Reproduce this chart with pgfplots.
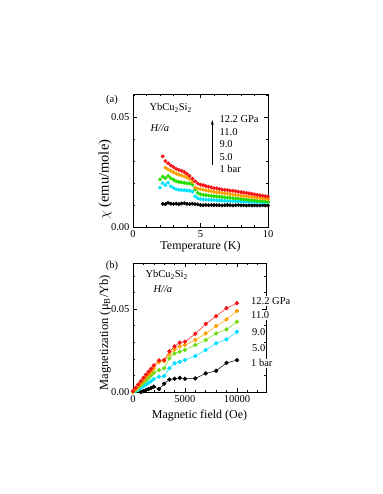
\documentclass[border=0pt]{standalone}
\usepackage{fontspec}
\setmainfont{Liberation Serif}
\usepackage{pgfplots}
\pgfplotsset{compat=1.18}
\usetikzlibrary{arrows.meta}
\definecolor{cred}{RGB}{245,20,20}
\definecolor{corange}{RGB}{255,160,0}
\definecolor{cgreen}{RGB}{40,220,0}
\definecolor{clime}{RGB}{110,220,20}
\definecolor{ccyan}{RGB}{0,225,255}
\newcommand{\tfs}{\fontsize{10.5}{12}\selectfont}
\newcommand{\lfs}{\fontsize{12}{14}\selectfont}
\pgfplotsset{
  common/.style={
    scale only axis,
    anchor=south west,
    /pgf/number format/assume math mode=true,
    /pgf/number format/1000 sep={},
    tick align=inside,
    major tick length=4pt,
    minor tick length=2pt,
    tick style={black, line width=0.5pt},
    axis line style={line width=0.6pt},
    ticklabel style={font=\tfs},
    label style={font=\lfs},
    yticklabel style={/pgf/number format/fixed,/pgf/number format/precision=2,/pgf/number format/fixed zerofill},
    scaled y ticks=false,
    scaled x ticks=false,
  },
}
\begin{document}
\begin{tikzpicture}
\path[use as bounding box] (0pt,0pt) rectangle (382pt,-494pt);
% ---------------- (a) ----------------
\begin{axis}[common,
  at={(133pt,-227pt)}, width=135pt, height=133pt,
  xmin=0, xmax=10, ymin=0, ymax=0.0605,
  xtick={0,5,10}, minor xtick={1,2,3,4,6,7,8,9},
  ytick={0,0.05}, minor ytick={0.01,0.02,0.03,0.04,0.06},
  xlabel={Temperature (K)},
  ylabel={$\chi$ (emu/mole)},
  xlabel style={at={(axis description cs:0.5,-0.15)}, anchor=center},
  ylabel style={at={(axis description cs:-0.207,0.355)}, anchor=center, font=\fontsize{14.5}{16}\selectfont},
  every axis plot/.append style={only marks, mark=*, mark size=1.75pt},
]
\addplot[black, mark options={fill=black}] coordinates {
(2.2,0.0105)(2.4,0.0104)(2.6,0.0110)(2.8,0.0106)(3.0,0.0105)(3.2,0.0106)(3.4,0.0104)(3.6,0.0107)(3.8,0.0108)(4.0,0.0105)
(4.2,0.0104)(4.4,0.0106)(4.6,0.0104)(4.8,0.0103)(5.0,0.0100)(5.2,0.0099)(5.4,0.0100)(5.6,0.0099)(5.8,0.0100)(6.0,0.0099)
(6.2,0.0100)(6.4,0.0099)(6.6,0.0098)(6.8,0.0099)(7.0,0.0100)(7.2,0.0099)(7.4,0.0098)(7.6,0.0099)(7.8,0.0100)(8.0,0.0098)
(8.2,0.0099)(8.4,0.0098)(8.6,0.0099)(8.8,0.0098)(9.0,0.0099)(9.2,0.0098)(9.4,0.0098)(9.6,0.0099)(9.8,0.0098)(10.0,0.0098)};
\addplot[ccyan, mark options={fill=ccyan}] coordinates {
(2.0,0.0179)(2.2,0.0199)(2.4,0.0190)(2.6,0.0201)(2.8,0.0185)(3.0,0.0178)(3.2,0.0171)(3.4,0.0169)(3.6,0.0168)(3.8,0.0167)
(4.0,0.0166)(4.2,0.0165)(4.4,0.0160)(4.6,0.0140)(4.8,0.0131)(5.0,0.0127)(5.2,0.0126)(5.4,0.0125)(5.6,0.0124)(5.8,0.0123)
(6.0,0.0122)(6.2,0.0122)(6.4,0.0121)(6.6,0.0120)(6.8,0.0120)(7.0,0.0119)(7.2,0.0118)(7.4,0.0118)(7.6,0.0117)(7.8,0.0117)
(8.0,0.0116)(8.2,0.0115)(8.4,0.0115)(8.6,0.0114)(8.8,0.0114)(9.0,0.0113)(9.2,0.0113)(9.4,0.0112)(9.6,0.0112)(9.8,0.0112)(10.0,0.0112)};
\addplot[cgreen, mark options={fill=cgreen}] coordinates {
(2.0,0.0217)(2.2,0.0229)(2.4,0.0222)(2.6,0.0232)(2.8,0.0222)(3.0,0.0215)(3.2,0.0208)(3.4,0.0205)(3.6,0.0203)(3.8,0.0201)
(4.0,0.0199)(4.2,0.0198)(4.4,0.0193)(4.6,0.0170)(4.8,0.0155)(5.0,0.0148)(5.2,0.0146)(5.4,0.0145)(5.6,0.0143)(5.8,0.0141)
(6.0,0.0140)(6.2,0.0139)(6.4,0.0138)(6.6,0.0136)(6.8,0.0135)(7.0,0.0134)(7.2,0.0133)(7.4,0.0131)(7.6,0.0130)(7.8,0.0129)
(8.0,0.0127)(8.2,0.0126)(8.4,0.0125)(8.6,0.0123)(8.8,0.0122)(9.0,0.0121)(9.2,0.0119)(9.4,0.0118)(9.6,0.0117)(9.8,0.0116)(10.0,0.0115)};
\addplot[corange, mark options={fill=corange}] coordinates {
(2.4,0.0270)(2.6,0.0262)(2.8,0.0256)(3.0,0.0249)(3.2,0.0243)(3.4,0.0238)(3.6,0.0234)(3.8,0.0230)(4.0,0.0225)(4.2,0.0218)
(4.4,0.0205)(4.6,0.0180)(4.8,0.0175)(5.0,0.0172)(5.2,0.0170)(5.4,0.0167)(5.6,0.0165)(5.8,0.0162)(6.0,0.0160)(6.2,0.0158)
(6.4,0.0157)(6.6,0.0155)(6.8,0.0153)(7.0,0.0152)(7.2,0.0150)(7.4,0.0148)(7.6,0.0146)(7.8,0.0145)(8.0,0.0143)(8.2,0.0141)
(8.4,0.0140)(8.6,0.0138)(8.8,0.0137)(9.0,0.0135)(9.2,0.0133)(9.4,0.0132)(9.6,0.0130)(9.8,0.0129)(10.0,0.0127)};
\addplot[cred, mark options={fill=cred}] coordinates {
(2.2,0.0321)(2.4,0.0300)(2.6,0.0290)(2.8,0.0280)(3.0,0.0272)(3.2,0.0265)(3.4,0.0259)(3.6,0.0256)(3.8,0.0250)(4.0,0.0242)
(4.2,0.0232)(4.4,0.0220)(4.6,0.0208)(4.8,0.0198)(5.0,0.0193)(5.2,0.0190)(5.4,0.0186)(5.6,0.0183)(5.8,0.0180)(6.0,0.0177)
(6.2,0.0176)(6.4,0.0173)(6.6,0.0171)(6.8,0.0169)(7.0,0.0168)(7.2,0.0166)(7.4,0.0165)(7.6,0.0163)(7.8,0.0161)(8.0,0.0159)
(8.2,0.0157)(8.4,0.0155)(8.6,0.0153)(8.8,0.0151)(9.0,0.0148)(9.2,0.0146)(9.4,0.0144)(9.6,0.0142)(9.8,0.0140)(10.0,0.0138)};
\end{axis}
\node[font=\tfs] at (112pt,-100pt) {(a)};
\node[font=\tfs, anchor=west] at (146pt,-108pt) {YbCu\textsubscript{2}Si\textsubscript{2}};
\node[font=\tfs\itshape, anchor=west] at (147pt,-128pt) {H//a};
\draw[-{Stealth[length=5pt,width=3pt]}, line width=0.6pt] (212.3pt,-165pt) -- (212.3pt,-120pt);
\node[font=\tfs, anchor=west] at (216pt,-119.3pt) {12.2 GPa};
\node[font=\tfs, anchor=west] at (216pt,-131.7pt) {11.0};
\node[font=\tfs, anchor=west] at (216pt,-144.3pt) {9.0};
\node[font=\tfs, anchor=west] at (216pt,-156.7pt) {5.0};
\node[font=\tfs, anchor=west] at (216pt,-169.3pt) {1 bar};
% ---------------- (b) ----------------
\begin{axis}[common,
  at={(133pt,-392pt)}, width=133pt, height=129pt,
  xmin=0, xmax=12800, ymin=0, ymax=0.0777,
  xtick={0,5000,10000}, minor xtick={1000,2000,3000,4000,6000,7000,8000,9000,11000,12000},
  ytick={0,0.05}, minor ytick={0.01,0.02,0.03,0.04,0.06,0.07},
  xlabel={Magnetic field (Oe)},
  ylabel={Magnetization (μ\textsubscript{B}/Yb)},
  xlabel style={at={(axis description cs:0.5,-0.18)}, anchor=center},
  ylabel style={at={(axis description cs:-0.21,0.46)}, anchor=center, font=\fontsize{12.5}{14}\selectfont},
  every axis plot/.append style={mark=*, mark size=1.9pt, line width=0.5pt},
]
\addplot[black, mark options={fill=black}] coordinates {
(750,0.0000)(1000,0.0005)(1250,0.0012)(1500,0.0018)(1750,0.0025)(2000,0.0032)(2500,0.0018)(3000,0.0050)(3500,0.0075)
(4000,0.0080)(4500,0.0085)(5000,0.0080)(6000,0.0082)(7000,0.0112)(8000,0.0128)(9000,0.0175)(10000,0.0192)};
\addplot[ccyan, mark options={fill=ccyan}] coordinates {
(0,-0.0003)(250,0.0005)(500,0.0015)(750,0.0025)(1000,0.0035)(1250,0.0045)(1500,0.0055)(1750,0.0065)(2000,0.0078)
(2500,0.0092)(3000,0.0096)(3500,0.0143)(4000,0.0173)(4500,0.0182)(5000,0.0193)(6000,0.0217)(7000,0.0253)(8000,0.0293)(9000,0.0317)(10000,0.0363)};
\addplot[clime, mark options={fill=clime}] coordinates {
(0,0.0000)(250,0.0012)(500,0.0025)(750,0.0040)(1000,0.0055)(1250,0.0070)(1500,0.0085)(1750,0.0100)(2000,0.0115)
(2500,0.0132)(3000,0.0143)(3500,0.0203)(4000,0.0233)(4500,0.0243)(5000,0.0253)(6000,0.0283)(7000,0.0313)(8000,0.0353)(9000,0.0377)(10000,0.0423)};
\addplot[corange, mark options={fill=corange}] coordinates {
(0,0.0003)(250,0.0018)(500,0.0035)(750,0.0052)(1000,0.0070)(1250,0.0088)(1500,0.0105)(1750,0.0122)(2000,0.0140)
(2500,0.0180)(3000,0.0185)(3500,0.0228)(4000,0.0255)(4500,0.0275)(5000,0.0283)(6000,0.0313)(7000,0.0353)(8000,0.0397)(9000,0.0438)(10000,0.0488)};
\addplot[cred, mark options={fill=cred}] coordinates {
(0,0.0005)(250,0.0025)(500,0.0045)(750,0.0065)(1000,0.0085)(1250,0.0105)(1500,0.0122)(1750,0.0140)(2000,0.0160)
(2500,0.0190)(3000,0.0193)(3500,0.0245)(4000,0.0275)(4500,0.0297)(5000,0.0303)(6000,0.0350)(7000,0.0410)(8000,0.0457)(9000,0.0505)(10000,0.0535)};
\end{axis}
\node[font=\tfs] at (112pt,-266pt) {(b)};
\node[font=\tfs, anchor=west] at (142pt,-275pt) {YbCu\textsubscript{2}Si\textsubscript{2}};
\node[font=\tfs\itshape, anchor=west] at (150pt,-289pt) {H//a};
\begin{scope}[every node/.style={font=\tfs, anchor=west, fill=white, inner sep=1pt}]
\node at (250pt,-301pt) {12.2 GPa};
\node at (250pt,-315pt) {11.0};
\node at (251pt,-331.7pt) {9.0};
\node at (251pt,-348pt) {5.0};
\node at (250pt,-363.3pt) {1 bar};
\end{scope}
\end{tikzpicture}
\end{document}
